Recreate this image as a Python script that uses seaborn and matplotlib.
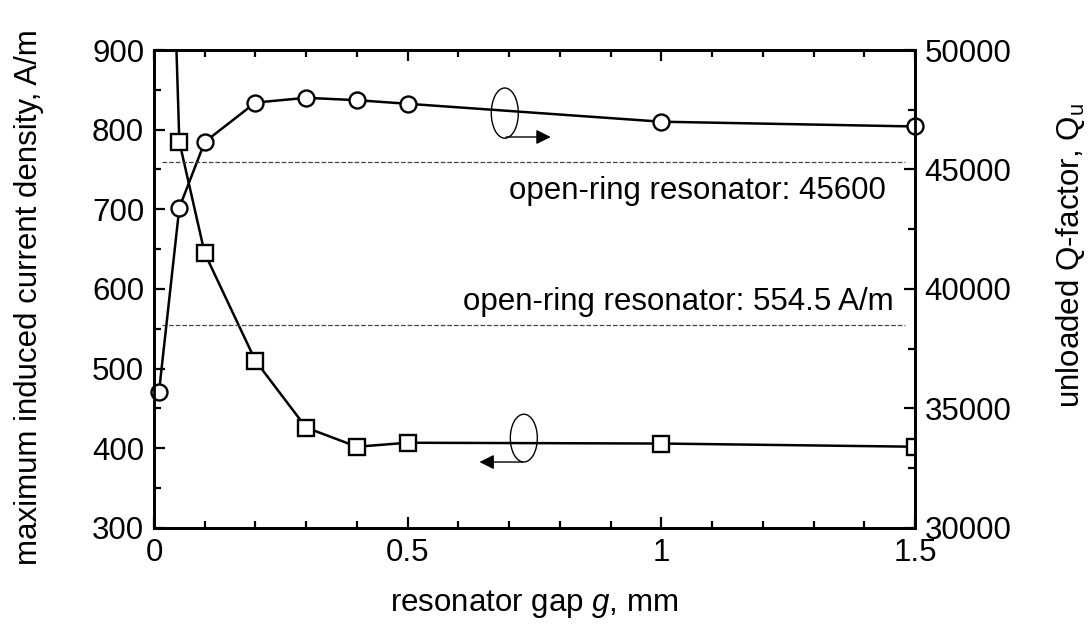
import numpy as np
import pandas as pd
import seaborn as sns
import matplotlib
matplotlib.use("Agg")
import matplotlib.pyplot as plt
import matplotlib.ticker as ticker
from matplotlib.patches import Ellipse

# data
gap_current = [0.02, 0.05, 0.1, 0.2, 0.3, 0.4, 0.5, 1.0, 1.5]
current_density = [1400, 785, 645, 510, 426, 402, 407, 406, 402]

gap_q = [0.01, 0.05, 0.1, 0.2, 0.3, 0.4, 0.5, 1.0, 1.5]
q_factor = [35700, 43400, 46150, 47800, 48000, 47900, 47750, 47000, 46800]

open_ring_current = 554.5
open_ring_q = 45300  # drawn position of the "45600" reference line

sns.set_style("ticks")
plt.rcParams['font.family'] = ['Liberation Sans', 'DejaVu Sans']
plt.rcParams['mathtext.fontset'] = 'custom'
plt.rcParams['mathtext.it'] = 'Liberation Sans:italic'
plt.rcParams['mathtext.rm'] = 'Liberation Sans'
for k in ('text.color', 'axes.labelcolor', 'xtick.color', 'ytick.color'):
    plt.rcParams[k] = 'black'
fs = 22.5
plt.rcParams['font.size'] = fs

fig, ax = plt.subplots(figsize=(10.88, 6.29), dpi=100)
fig.subplots_adjust(left=0.1415, right=0.841, bottom=0.1606, top=0.9205)
ax2 = ax.twinx()

df_j = pd.DataFrame({'gap': gap_current, 'J': current_density})
df_q = pd.DataFrame({'gap': gap_q, 'Q': q_factor})

sns.lineplot(data=df_j, x='gap', y='J', ax=ax, color='black', lw=1.8,
             marker='s', markersize=11.5, markerfacecolor='white',
             markeredgecolor='black', markeredgewidth=1.7, clip_on=True)
sns.lineplot(data=df_q, x='gap', y='Q', ax=ax2, color='black', lw=1.8,
             marker='o', markersize=11.5, markerfacecolor='white',
             markeredgecolor='black', markeredgewidth=1.7, clip_on=False)

# open-ring reference lines
ax.plot([0.015, 1.48], [open_ring_current, open_ring_current], ls='--', color='#444444', lw=0.9)
ax2.plot([0.015, 1.48], [open_ring_q, open_ring_q], ls='--', color='#444444', lw=0.9)
ax.text(1.458, 584, 'open-ring resonator: 554.5 A/m', ha='right', va='center', fontsize=fs)
ax.text(1.442, 723, 'open-ring resonator: 45600', ha='right', va='center', fontsize=fs)

ax.set_xlim(0, 1.5)
ax.set_ylim(300, 900)
ax2.set_ylim(30000, 50000)

ax.xaxis.set_major_locator(ticker.MultipleLocator(0.5))
ax.xaxis.set_minor_locator(ticker.MultipleLocator(0.1))
ax.xaxis.set_major_formatter(ticker.FuncFormatter(lambda v, p: f'{v:g}'))
ax.yaxis.set_major_locator(ticker.MultipleLocator(100))
ax.yaxis.set_minor_locator(ticker.MultipleLocator(50))
ax2.yaxis.set_major_locator(ticker.MultipleLocator(5000))
ax2.yaxis.set_minor_locator(ticker.MultipleLocator(2500))

ax.tick_params(which='both', direction='in', top=True, right=False, width=1.6)
ax.tick_params(which='major', length=8, labelsize=fs, pad=7)
ax.tick_params(which='minor', length=5)
ax2.tick_params(which='both', direction='in', width=1.6)
ax2.tick_params(which='major', length=8, labelsize=fs, pad=7)
ax2.tick_params(which='minor', length=5)

for a in (ax, ax2):
    for s in a.spines.values():
        s.set_linewidth(2)
        s.set_color('black')

ax.set_xlabel('resonator gap $g$, mm', fontsize=fs)
ax.xaxis.set_label_coords(0.5, -0.125)
ax.set_ylabel('maximum induced current density, A/m', fontsize=fs)
ax.yaxis.set_label_coords(-0.145, 0.483)
ax2.set_ylabel('unloaded Q-factor, Q$_\\mathrm{u}$', fontsize=fs)
ax2.yaxis.set_label_coords(1.183, 0.569)

# curl-and-arrow markers pointing to each curve's axis
ax.add_patch(Ellipse((0.461, 0.868), 0.0355, 0.105, transform=ax.transAxes,
                     fill=False, lw=1.0, color='black'))
ax.annotate('', xy=(0.525, 0.818), xytext=(0.459, 0.818), xycoords='axes fraction',
            arrowprops=dict(arrowstyle='-|>', color='black', lw=1.0, mutation_scale=22))
ax.add_patch(Ellipse((0.486, 0.188), 0.0355, 0.1, transform=ax.transAxes,
                     fill=False, lw=1.0, color='black'))
ax.annotate('', xy=(0.424, 0.138), xytext=(0.488, 0.138), xycoords='axes fraction',
            arrowprops=dict(arrowstyle='-|>', color='black', lw=1.0, mutation_scale=22))

plt.savefig('out.png', dpi=100)
